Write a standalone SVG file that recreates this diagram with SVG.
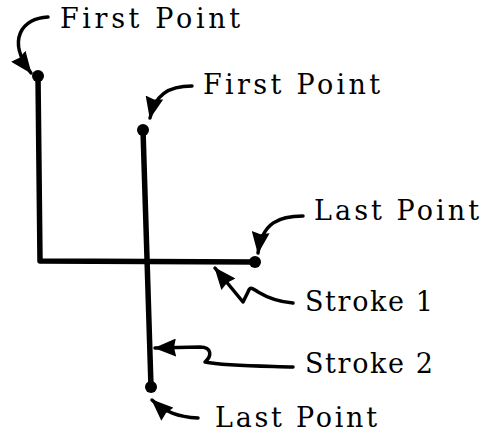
<svg xmlns="http://www.w3.org/2000/svg" width="497" height="435" viewBox="0 0 497 435">
  <style>
    .stroke { fill: none; stroke: #000; stroke-width: 5.5; stroke-linecap: round; stroke-linejoin: round; }
    .dot { fill: #000; }
    .leader { fill: none; stroke: #000; stroke-width: 3.5; stroke-linecap: round; stroke-linejoin: round; marker-end: url(#head); }
    .label { font-family: "DejaVu Serif", "Liberation Serif", serif; font-size: 27px; fill: #000; }
  </style>
  <defs>
    <marker id="head" viewBox="0 0 22 18" refX="21" refY="9" markerWidth="22" markerHeight="18" markerUnits="userSpaceOnUse" orient="auto">
      <path d="M0,0 L22,9 L0,18 L2,9 Z" fill="#000"/>
    </marker>
  </defs>

  <!-- Stroke 1: down, then right -->
  <g id="stroke1">
    <path class="stroke" d="M38,76 L40,261 L255,262"/>
    <circle class="dot" cx="38" cy="76" r="6"/>
    <circle class="dot" cx="255" cy="262" r="6"/>
  </g>

  <!-- Stroke 2: a single near-vertical line -->
  <g id="stroke2">
    <path class="stroke" d="M143,130 L151,387"/>
    <circle class="dot" cx="143" cy="130" r="6"/>
    <circle class="dot" cx="151" cy="387" r="6"/>
  </g>

  <!-- Leader arrows -->
  <g id="connectors">
    <path class="leader" d="M48,17 C22,18 6,40 31,73"/>
    <path class="leader" d="M192,86 C168,86 155,95 150,118"/>
    <path class="leader" d="M303,216 C280,216 262,222 258,253"/>
    <path class="leader" d="M293,303 C280,302 268,298 258,292 C252,288 250,286 248,292 L243,302 L215,268"/>
    <path class="leader" d="M293,367 C260,366 225,366 205,362 C212,356 212,347 200,347 L155,348"/>
    <path class="leader" d="M198,418 C178,417 165,412 152,400"/>
  </g>

  <!-- Labels -->
  <g id="label-first1"><text class="label" x="60" y="28" textLength="180" lengthAdjust="spacing">First Point</text></g>
  <g id="label-first2"><text class="label" x="203" y="94" textLength="177" lengthAdjust="spacing">First Point</text></g>
  <g id="label-last1"><text class="label" x="314" y="220" textLength="165" lengthAdjust="spacing">Last Point</text></g>
  <g id="label-stroke1"><text class="label" x="305" y="311" textLength="128" lengthAdjust="spacing">Stroke 1</text></g>
  <g id="label-stroke2"><text class="label" x="305" y="373" textLength="128" lengthAdjust="spacing">Stroke 2</text></g>
  <g id="label-last2"><text class="label" x="215" y="427" textLength="162" lengthAdjust="spacing">Last Point</text></g>
</svg>
